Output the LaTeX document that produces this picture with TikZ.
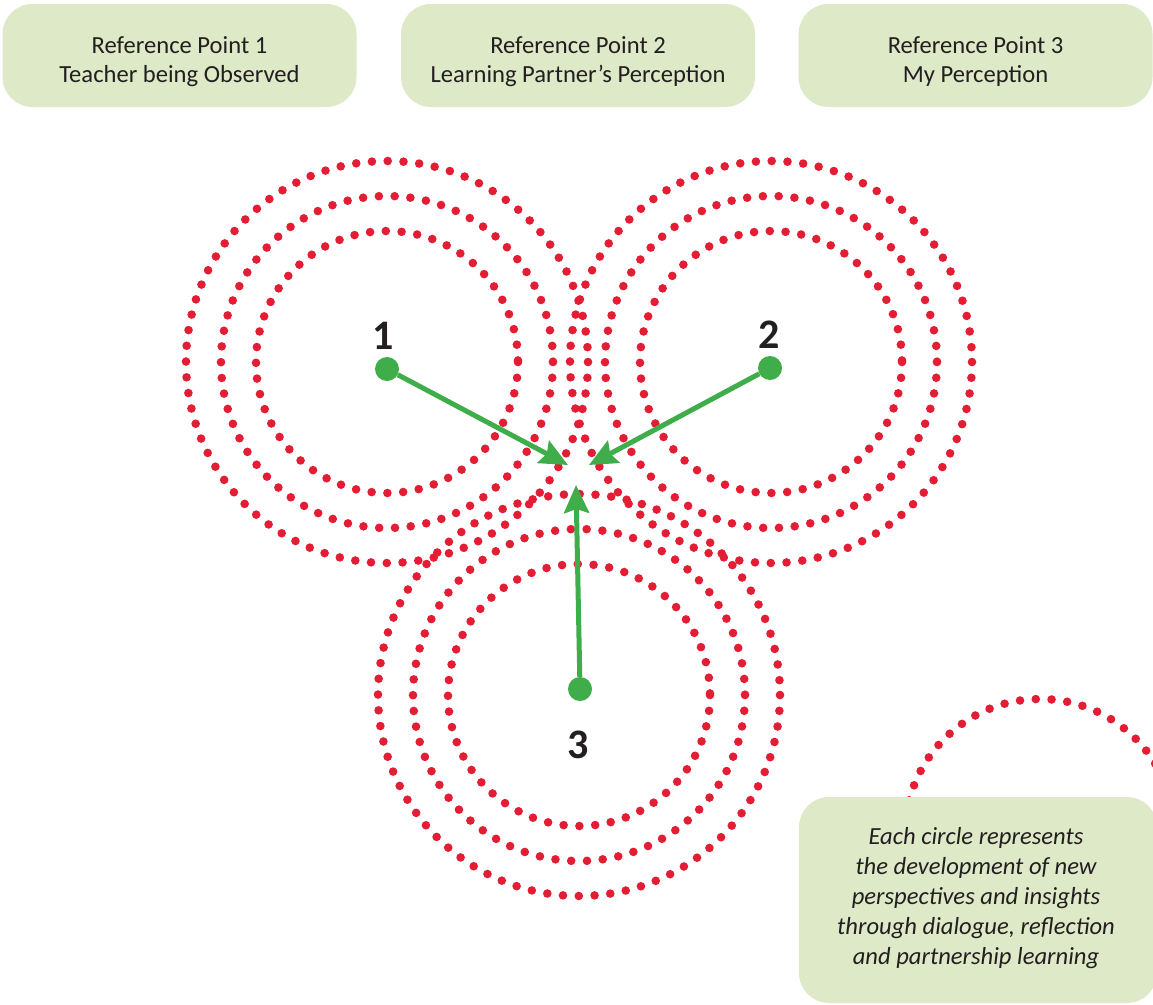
\documentclass[tikz,border=0pt]{standalone}
\usepackage{fontspec}
\setmainfont{Carlito}
\usetikzlibrary{arrows.meta}
\definecolor{dotred}{RGB}{226,29,52}
\definecolor{arrowgreen}{RGB}{62,173,74}
\definecolor{boxgreen}{RGB}{221,233,199}
\definecolor{inkgray}{RGB}{35,31,32}
\tikzset{
	ring/.style={draw=dotred, line width=8.6pt, line cap=round, dash pattern=on 0pt off 15.8pt},
	refbox/.style={fill=boxgreen, rounded corners=30pt, minimum width=354pt, minimum height=103pt},
	boxtext/.style={align=center, text=inkgray, font=\fontsize{24.6}{29.5}\selectfont},
	pointdot/.style={circle, fill=arrowgreen, minimum size=24pt, inner sep=0pt},
	pointarrow/.style={draw=arrowgreen, line width=5pt, -{Stealth[length=28pt,width=25pt,inset=4pt]}},
	pointlabel/.style={text=inkgray, font=\fontsize{42}{42}\selectfont\bfseries}
}
\begin{document}
\begin{tikzpicture}[x=1pt,y=-1pt]
	\useasboundingbox (0,0) rectangle (1153,1004);
	\clip (0,0) rectangle (1153,1004);
	\coordinate (C1) at (387,362);
	\coordinate (C2) at (771,362);
	\coordinate (C3) at (579,695);
	\coordinate (C4) at (1040,834);
	% three rings round each reference point
	\foreach \c in {C1,C2,C3} {
		\foreach \r in {131,166,201}
			\draw[ring] (\c) circle (\r);
	}
	\draw[ring] (C4) circle (135);
	\node[pointdot] (p1) at (387,369) {};
	\node[pointdot] (p2) at (770,368) {};
	\node[pointdot] (p3) at (580,689) {};
	\coordinate (t1) at (568,465);
	\coordinate (t2) at (589,465);
	\coordinate (t3) at (576,485);
	\draw[pointarrow] (p1) -- (t1);
	\draw[pointarrow] (p2) -- (t2);
	\draw[pointarrow] (p3) -- (t3);
	\node[pointlabel] (n1) at (383,336) {1};
	\node[pointlabel] (n2) at (769,335) {2};
	\node[pointlabel] (n3) at (578,745) {3};
	\node[refbox] (r1) at (179.5,55.5) {};
	\node[refbox] (r2) at (578,55.5) {};
	\node[refbox] (r3) at (975.5,55.5) {};
	\node[boxtext] (r1text) at (179.5,61.5) {Reference Point 1\\Teacher being Observed};
	\node[boxtext] (r2text) at (578,61.5) {Reference Point 2\\Learning Partner’s Perception};
	\node[boxtext] (r3text) at (975.5,61.5) {Reference Point 3\\My Perception};
	\node[refbox, minimum width=358pt, minimum height=206pt] (note) at (978,900) {};
	\node[boxtext, font=\fontsize{24.6}{29.8}\selectfont\itshape] (notetext) at (976,898) {Each circle represents\\the development of new\\perspectives and insights\\through dialogue, reflection\\and partnership learning};
\end{tikzpicture}
\end{document}
